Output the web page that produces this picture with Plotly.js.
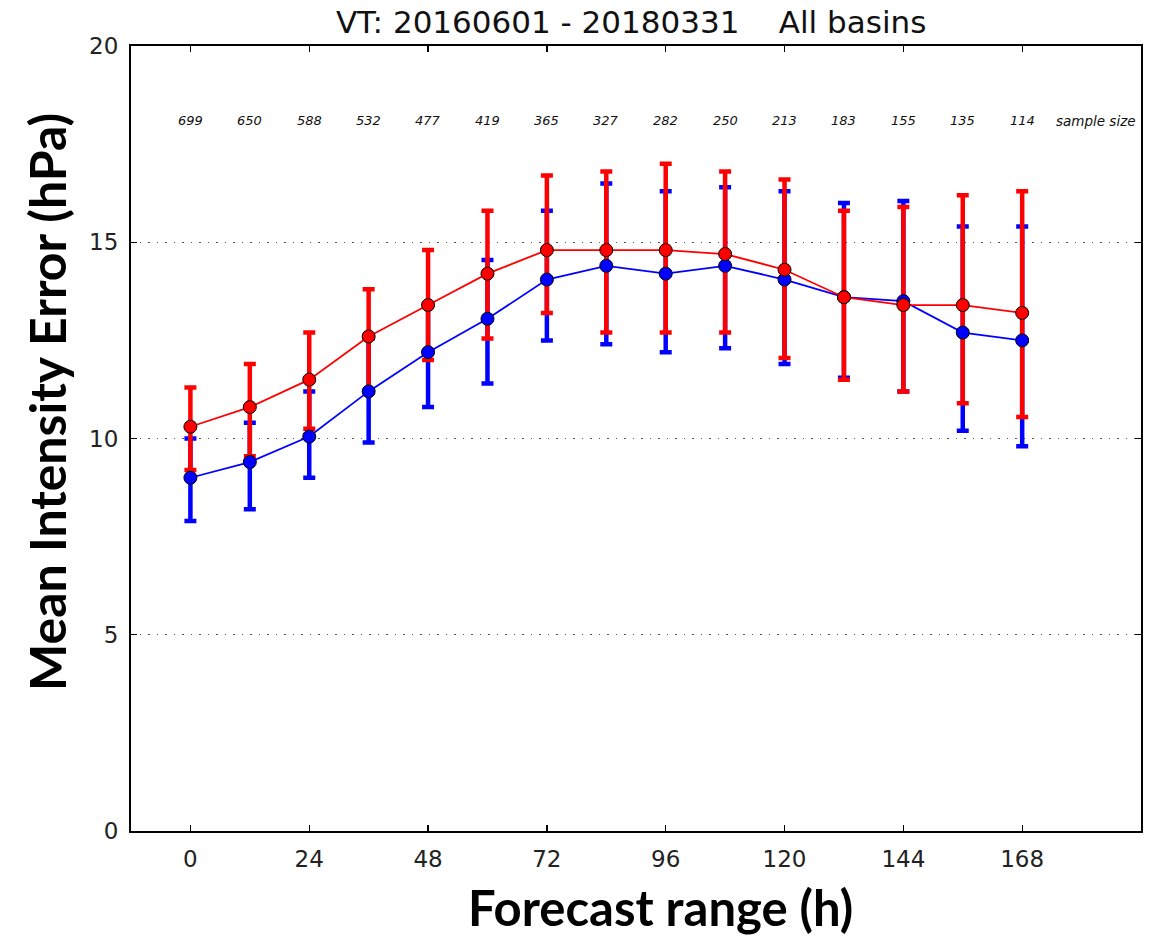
<!DOCTYPE html>
<html>
<head>
<meta charset="utf-8">
<script src="https://cdn.plot.ly/plotly-3.0.1.min.js"></script>
<style>html,body{margin:0;padding:0;background:#fff;}#chart{width:1158px;height:939px;}</style>
</head>
<body>
<div id="chart"></div>
<script>
// Forecast ranges (h)
const hours = [0, 12, 24, 36, 48, 60, 72, 84, 96, 108, 120, 132, 144, 156, 168];
// Blue series: mean and error-bar ends (hPa)
const blueMean  = [9.0, 9.4, 10.05, 11.2, 12.2, 13.05, 14.05, 14.4, 14.2, 14.4, 14.05, 13.6, 13.5, 12.7, 12.5];
const blueUpper = [10.0, 10.4, 11.2, 12.55, 13.4, 14.55, 15.8, 16.5, 16.3, 16.4, 16.3, 16.0, 16.05, 15.4, 15.4];
const blueLower = [7.9, 8.2, 9.0, 9.9, 10.8, 11.4, 12.5, 12.4, 12.2, 12.3, 11.9, 11.55, 11.2, 10.2, 9.8];
// Red series
const redMean  = [10.3, 10.8, 11.5, 12.6, 13.4, 14.2, 14.8, 14.8, 14.8, 14.7, 14.3, 13.6, 13.4, 13.4, 13.2];
const redUpper = [11.3, 11.9, 12.7, 13.8, 14.8, 15.8, 16.7, 16.8, 17.0, 16.8, 16.6, 15.8, 15.9, 16.2, 16.3];
const redLower = [9.2, 9.55, 10.25, 11.2, 12.0, 12.55, 13.2, 12.7, 12.7, 12.7, 12.05, 11.5, 11.2, 10.9, 10.55];
// Sample sizes
const sampleSizes = [699, 650, 588, 532, 477, 419, 365, 327, 282, 250, 213, 183, 155, 135, 114];
const sampleLabel = "sample size";
const sampleLabelX = 183;
const sampleY = 18.1;
const xTicks = [0, 24, 48, 72, 96, 120, 144, 168];
const yTicks = [0, 5, 10, 15, 20];

const BLUE = "#0000ff", RED = "#ff0000";

function errTrace(mean, up, lo, color) {
  return {
    x: hours, y: mean, type: "scatter", mode: "markers",
    marker: {size: 1, opacity: 0}, hoverinfo: "skip", showlegend: false,
    error_y: {
      type: "data", symmetric: false,
      array: up.map((v, i) => v - mean[i]),
      arrayminus: lo.map((v, i) => mean[i] - v),
      color: color, thickness: 4.5, width: 6
    }
  };
}
function lineTrace(mean, color) {
  return {
    x: hours, y: mean, type: "scatter", mode: "lines+markers", showlegend: false,
    line: {color: color, width: 1.8},
    marker: {color: color, size: 13, line: {color: "#000", width: 1}}
  };
}

const traces = [
  errTrace(blueMean, blueUpper, blueLower, BLUE),
  errTrace(redMean, redUpper, redLower, RED),
  lineTrace(blueMean, BLUE),
  lineTrace(redMean, RED)
];

const annotations = sampleSizes.map((n, i) => ({
  x: hours[i], y: sampleY, xref: "x", yref: "y", text: "<i>" + n + "</i>",
  showarrow: false, font: {family: "DejaVu Sans", size: 13, color: "#111"}
}));
annotations.push({
  x: sampleLabelX, y: sampleY, xref: "x", yref: "y", text: "<i>" + sampleLabel + "</i>",
  showarrow: false, font: {family: "DejaVu Sans", size: 13.5, color: "#111"}
});
annotations.push({
  x: 0.524, y: -0.097, xref: "paper", yref: "paper", xanchor: "center", yanchor: "middle",
  text: "<b>Forecast range (h)</b>", showarrow: false,
  font: {family: "Lato", size: 49, color: "#000"}
});
annotations.push({
  x: -0.0832, y: 0.5465, xref: "paper", yref: "paper", xanchor: "center", yanchor: "middle",
  text: "<b>Mean Intensity Error (hPa)</b>", textangle: -90, showarrow: false,
  font: {family: "Lato", size: 50, color: "#000"}
});

const axisCommon = {
  showline: true, linewidth: 2, linecolor: "#000", mirror: "ticks",
  ticks: "inside", ticklen: 6, tickwidth: 1.3, tickcolor: "#000",
  zeroline: false, tickfont: {family: "DejaVu Sans", size: 23, color: "#222"}
};

const layout = {
  width: 1158, height: 939,
  margin: {l: 131, r: 17, t: 46, b: 108},
  paper_bgcolor: "#fff", plot_bgcolor: "#fff",
  title: {
    text: "VT: 20160601 - 20180331\u00a0\u00a0\u00a0\u00a0All basins",
    font: {family: "DejaVu Sans", size: 31, color: "#111"},
    x: 0.545, xref: "container", xanchor: "center",
    y: 1 - 22 / 939, yref: "container", yanchor: "middle"
  },
  xaxis: Object.assign({}, axisCommon, {
    range: [-12, 192], tickvals: xTicks, ticktext: xTicks.map(String),
    showgrid: false, ticklabelstandoff: 6
  }),
  yaxis: Object.assign({}, axisCommon, {
    range: [0, 20], tickvals: yTicks, ticktext: yTicks.map(String),
    showgrid: true, gridcolor: "#555", gridwidth: 1, griddash: "1.5px,7px",
    ticklabelstandoff: 6
  }),
  annotations: annotations,
  showlegend: false
};

Plotly.newPlot("chart", traces, layout, {displayModeBar: false, staticPlot: true});
</script>
</body>
</html>
